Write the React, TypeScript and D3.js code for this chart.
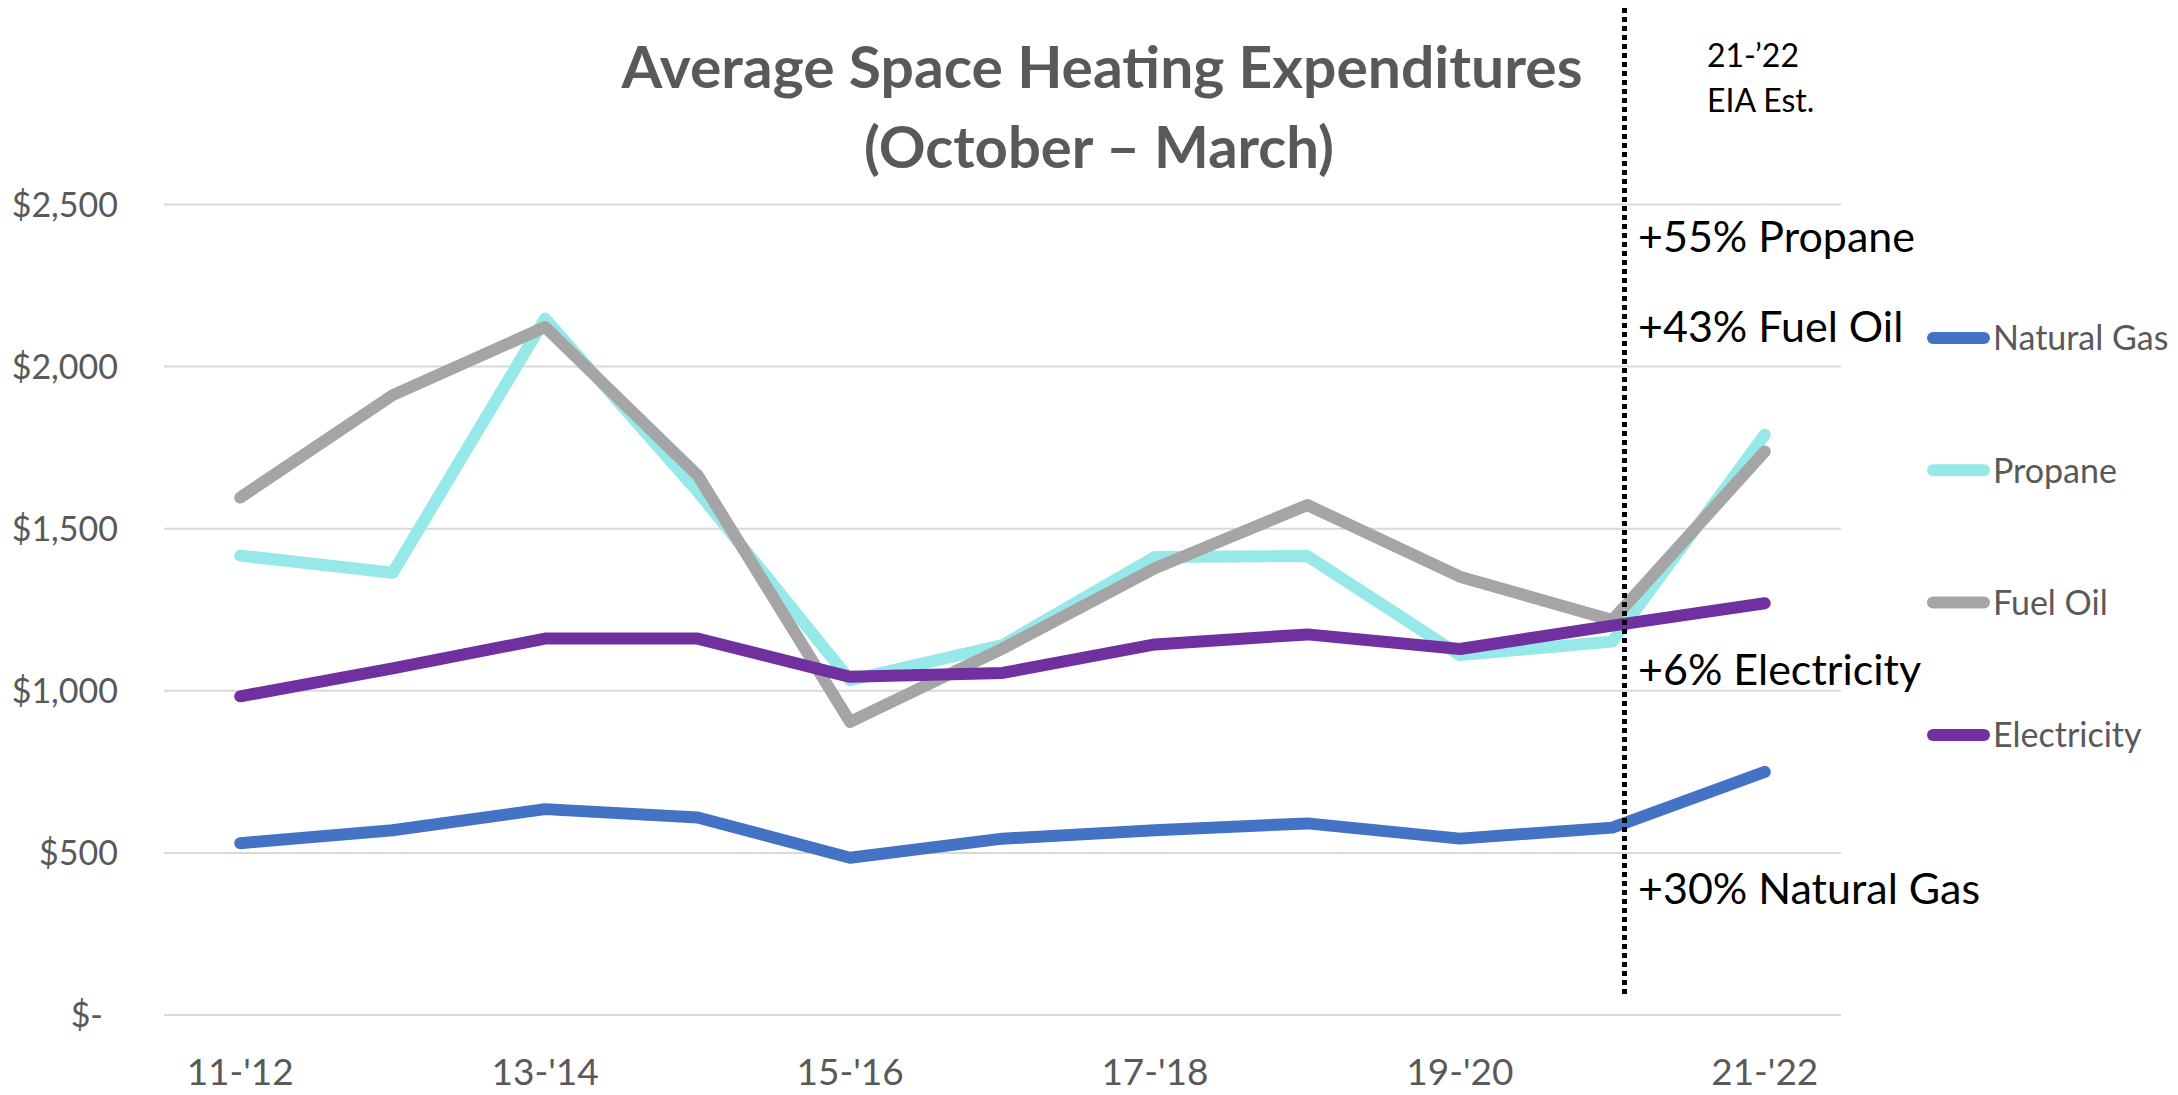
import React from 'react';
import * as d3 from 'd3';

// heating seasons (Oct - Mar)
const seasons = ["11-'12", "12-'13", "13-'14", "14-'15", "15-'16", "16-'17", "17-'18", "18-'19", "19-'20", "20-'21", "21-'22"];
const naturalGas = [530, 570, 635, 609, 485, 544, 570, 591, 544, 578, 750];
const propane = [1417, 1364, 2148, 1615, 1033, 1141, 1413, 1416, 1110, 1152, 1790];
const fuelOil = [1596, 1912, 2122, 1665, 904, 1130, 1378, 1573, 1352, 1218, 1738];
const electricity = [983, 1069, 1161, 1161, 1043, 1055, 1143, 1174, 1129, 1201, 1270];
const yTicks = [0, 500, 1000, 1500, 2000, 2500];
const seriesNames = ['Natural Gas', 'Propane', 'Fuel Oil', 'Electricity'];
const seriesColors = ['#4472C4', '#97E8E9', '#A5A5A5', '#7030A0'];
const changeNotes = ['+55% Propane', '+43% Fuel Oil', '+6% Electricity', '+30% Natural Gas'];

const W = 2178;
const H = 1095;
const FONT = 'Lato, "Open Sans", sans-serif';
const GREY = '#595959';

function App() {
  const series = [naturalGas, propane, fuelOil, electricity];

  // scales
  const x = d3.scaleBand().domain(seasons).range([164, 1841]).padding(0);
  const y = d3.scaleLinear().domain([0, 2500]).range([1015, 204.5]);
  const cx = (s: string) => (x(s) as number) + x.bandwidth() / 2;

  const line = d3
    .line<number>()
    .x((_, i) => cx(seasons[i]))
    .y((v) => y(v));

  const fmt = (v: number) => (v === 0 ? '$-' : '$' + d3.format(',')(v));

  // estimate divider just right of 20-'21
  const divX = cx(seasons[9]) + x.bandwidth() * 0.08;

  const noteY = [252, 342, 685, 904];

  return (
    <svg width={W} height={H} style={{ position: 'absolute', left: 0, top: 0, background: '#fff' }}>
      {/* gridlines + y labels */}
      <g>
        {yTicks.map((t) => (
          <g key={t}>
            <line x1={164} x2={1841} y1={y(t)} y2={y(t)} stroke="#D9D9D9" strokeWidth={2} />
            <text
              x={t === 0 ? 103 : 118}
              y={y(t)}
              dy="0.36em"
              textAnchor="end"
              fontFamily={FONT}
              fontSize={34}
              fill={GREY}
            >
              {fmt(t)}
            </text>
          </g>
        ))}
      </g>

      {/* x labels, every other season */}
      <g>
        {seasons.map((s, i) =>
          i % 2 === 0 ? (
            <text key={s} x={cx(s)} y={1085} textAnchor="middle" fontFamily={FONT} fontSize={37} fill={GREY}>
              {s}
            </text>
          ) : null
        )}
      </g>

      {/* series */}
      <g>
        {series.map((d, i) => (
          <path
            key={seriesNames[i]}
            d={line(d) || ''}
            fill="none"
            stroke={seriesColors[i]}
            strokeWidth={12}
            strokeLinecap="round"
            strokeLinejoin="round"
          />
        ))}
      </g>

      {/* divider */}
      <line x1={divX} x2={divX} y1={8} y2={995} stroke="#000" strokeWidth={5} strokeDasharray="5 4" />

      {/* title */}
      <g fontFamily={FONT} fontWeight={700} fontSize={57} fill={GREY}>
        <text x={1102} y={88} textAnchor="middle" textLength={961} lengthAdjust="spacingAndGlyphs">
          Average Space Heating Expenditures
        </text>
        <text x={1099} y={168} textAnchor="middle" textLength={470} lengthAdjust="spacingAndGlyphs">
          (October – March)
        </text>
      </g>

      <g fontFamily={FONT} fontSize={32} fill="#000">
        <text x={1707} y={67}>21-’22</text>
        <text x={1707} y={112}>EIA Est.</text>
      </g>

      {/* change annotations */}
      <g fontFamily={FONT} fontSize={43} fill="#000">
        {changeNotes.map((n, i) => (
          <text key={n} x={1638} y={noteY[i]}>
            {n}
          </text>
        ))}
      </g>

      {/* legend */}
      <g>
        {seriesNames.map((n, i) => {
          const ly = 338 + i * 132.3;
          return (
            <g key={n}>
              <line x1={1933} x2={1984} y1={ly} y2={ly} stroke={seriesColors[i]} strokeWidth={12} strokeLinecap="round" />
              <text x={1993} y={ly} dy="0.36em" fontFamily={FONT} fontSize={34} fill={GREY}>
                {n}
              </text>
            </g>
          );
        })}
      </g>
    </svg>
  );
}

export default App;
